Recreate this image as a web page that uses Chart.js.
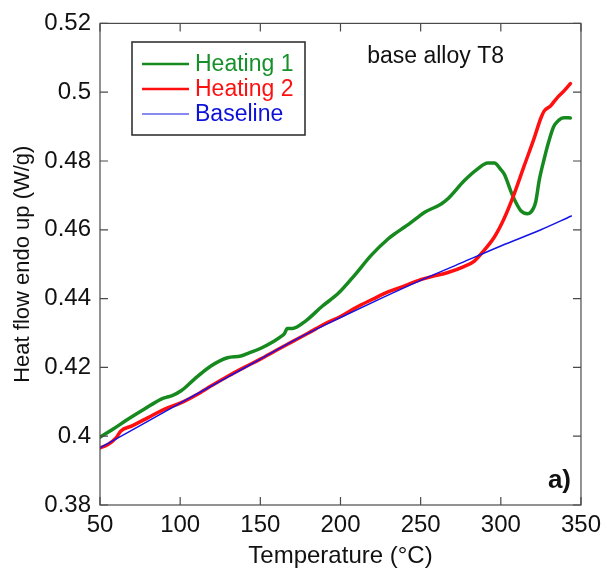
<!DOCTYPE html>
<html><head><meta charset="utf-8">
<script src="https://cdn.jsdelivr.net/npm/chart.js@4.4.0/dist/chart.umd.min.js"></script>
<style>html,body{margin:0;padding:0;background:#fff}#wrap{width:607px;height:577px}</style>
</head><body><div id="wrap"><canvas id="c" width="607" height="577"></canvas></div>
<script>
// ---- data ----
const seriesLabels = ['Heating 1', 'Heating 2', 'Baseline'];

const heat1T = [50, 58, 67.6, 78, 88.2, 91.3, 95, 100.6, 108.9, 119.2, 129.5, 137.8, 143, 150, 158.5, 163, 165, 166.8, 170, 178, 188.4, 198.8, 209, 219.4, 229.8, 234, 240, 248.4, 252.5, 262.8, 267, 277.3, 285.6, 291.8, 296, 300, 302.1, 307.3, 312.4, 316.6, 318.5, 321.7, 324, 327, 330, 333, 336, 339.3, 343.4];
const heat1V = [0.3997, 0.4020, 0.4050, 0.4080, 0.4108, 0.4113, 0.4118, 0.4132, 0.4166, 0.4204, 0.4228, 0.4233, 0.4242, 0.4255, 0.4276, 0.4290, 0.4298, 0.4313, 0.4313, 0.4334, 0.4377, 0.4416, 0.4469, 0.4527, 0.4574, 0.4589, 0.4608, 0.4637, 0.4651, 0.4675, 0.4690, 0.4743, 0.4777, 0.4794, 0.4794, 0.4775, 0.4762, 0.4700, 0.4656, 0.4647, 0.4650, 0.4680, 0.4745, 0.4805, 0.4858, 0.4900, 0.4918, 0.4926, 0.4925];

const heat2T = [50, 55, 60, 63, 70, 80, 90, 100, 110, 120, 130, 140, 150, 160, 170, 180, 190, 200, 210, 220, 230, 240, 250, 257, 267, 277, 283.5, 289.7, 296, 302, 308, 314.5, 320.7, 325, 327, 331, 335, 339.3, 343.4];
const heat2V = [0.3966, 0.3976, 0.3995, 0.4015, 0.4030, 0.4054, 0.4078, 0.4096, 0.4120, 0.4148, 0.4175, 0.4200, 0.4224, 0.4250, 0.4275, 0.4300, 0.4326, 0.4348, 0.4375, 0.4398, 0.4420, 0.4437, 0.4455, 0.4464, 0.4476, 0.4493, 0.4509, 0.4541, 0.4579, 0.4632, 0.4700, 0.4785, 0.4865, 0.4925, 0.4945, 0.4960, 0.4983, 0.5003, 0.5025];

const baseT = [50, 75, 100, 125, 150, 175, 200, 225, 250, 275, 300, 325, 344];
const baseV = [0.3966, 0.4031, 0.4096, 0.4160, 0.4224, 0.4288, 0.4345, 0.4400, 0.4453, 0.4503, 0.4553, 0.4600, 0.4640];

const xTickLabels = ['50', '100', '150', '200', '250', '300', '350'];
const yTickLabels = ['0.38', '0.4', '0.42', '0.44', '0.46', '0.48', '0.5', '0.52'];
const xTitle = 'Temperature (°C)';
const yTitle = 'Heat flow endo up (W/g)';
const annotText = 'base alloy T8';
const panelText = 'a)';

// ---- chart ----
const FONT = '"Liberation Sans", Arial, Helvetica, sans-serif';
const colors = ['#178a1f', '#ff0f0f', '#1414e6'];
const textColors = ['#16902a', '#ff1010', '#0c12d8'];
const widths = [3.5, 3.5, 1.5];

const toPts = (xs, ys) => xs.map((x, i) => ({x: x, y: ys[i]}));

const framePlugin = {
  id: 'frame',
  afterDraw(chart) {
    const ctx = chart.ctx;
    const {left, right, top, bottom} = chart.chartArea;
    const xs = chart.scales.x, ys = chart.scales.y;
    ctx.save();
    ctx.strokeStyle = '#4a4a4a';
    ctx.lineWidth = 1.2;
    ctx.strokeRect(left, top, right - left, bottom - top);
    const L = 8;
    ctx.beginPath();
    xs.ticks.forEach(t => {
      const p = xs.getPixelForValue(t.value);
      ctx.moveTo(p, bottom); ctx.lineTo(p, bottom - L);
      ctx.moveTo(p, top); ctx.lineTo(p, top + L);
    });
    ys.ticks.forEach(t => {
      const p = ys.getPixelForValue(t.value);
      ctx.moveTo(left, p); ctx.lineTo(left + L, p);
      ctx.moveTo(right, p); ctx.lineTo(right - L, p);
    });
    ctx.stroke();

    // legend box
    const bx = 132, by = 42, bw = 173, bh = 93;
    ctx.lineWidth = 1.6;
    ctx.strokeStyle = '#333';
    ctx.strokeRect(bx, by, bw, bh);
    ctx.font = '23px ' + FONT;
    ctx.textBaseline = 'middle';
    ctx.textAlign = 'left';
    chart.data.datasets.forEach((ds, i) => {
      const yy = 64 + i * 25;
      ctx.strokeStyle = ds.borderColor;
      ctx.lineWidth = i === 2 ? 1.2 : 2.5;
      ctx.beginPath(); ctx.moveTo(142, yy); ctx.lineTo(189, yy); ctx.stroke();
      ctx.fillStyle = textColors[i];
      ctx.fillText(ds.label, 195, yy + 1);
    });

    // annotations
    ctx.fillStyle = '#111';
    ctx.font = '23px ' + FONT;
    ctx.textAlign = 'right';
    ctx.textBaseline = 'alphabetic';
    ctx.fillText(annotText, 504, 63);
    ctx.font = 'bold 26px ' + FONT;
    ctx.fillText(panelText, 571, 488);
    ctx.restore();
  }
};

new Chart(document.getElementById('c'), {
  type: 'line',
  data: {
    datasets: [
      {label: seriesLabels[0], data: toPts(heat1T, heat1V), borderColor: colors[0], borderWidth: widths[0], order: 2},
      {label: seriesLabels[1], data: toPts(heat2T, heat2V), borderColor: colors[1], borderWidth: widths[1], order: 1},
      {label: seriesLabels[2], data: toPts(baseT, baseV), borderColor: colors[2], borderWidth: widths[2], order: 0}
    ]
  },
  options: {
    responsive: false,
    animation: false,
    devicePixelRatio: 1,
    elements: {
      point: {radius: 0},
      line: {cubicInterpolationMode: 'monotone', borderCapStyle: 'round', borderJoinStyle: 'round'}
    },
    layout: {padding: {top: 20, right: 23, left: 0, bottom: 0}},
    plugins: {legend: {display: false}, tooltip: {enabled: false}},
    scales: {
      x: {
        type: 'linear', min: 50, max: 350,
        ticks: {stepSize: 50, padding: 6, color: '#111', font: {family: FONT, size: 24},
          callback: (v) => xTickLabels[Math.round((v - 50) / 50)], maxRotation: 0, autoSkip: false},
        grid: {display: false, drawTicks: false},
        border: {display: false},
        title: {display: true, text: xTitle, color: '#111', font: {family: FONT, size: 24}, padding: {top: 0, bottom: 6}},
        afterFit: (s) => { s.height = 72; }
      },
      y: {
        type: 'linear', min: 0.38, max: 0.52,
        ticks: {stepSize: 0.02, padding: 9, color: '#111', font: {family: FONT, size: 24},
          callback: (v) => yTickLabels[Math.round((v - 0.38) / 0.02)], autoSkip: false},
        grid: {display: false, drawTicks: false},
        border: {display: false},
        title: {display: true, text: yTitle, color: '#111', font: {family: FONT, size: 22}, padding: {top: 10, bottom: 0}},
        afterFit: (s) => { s.width = 100; }
      }
    }
  },
  plugins: [framePlugin]
});
</script>
</body></html>
